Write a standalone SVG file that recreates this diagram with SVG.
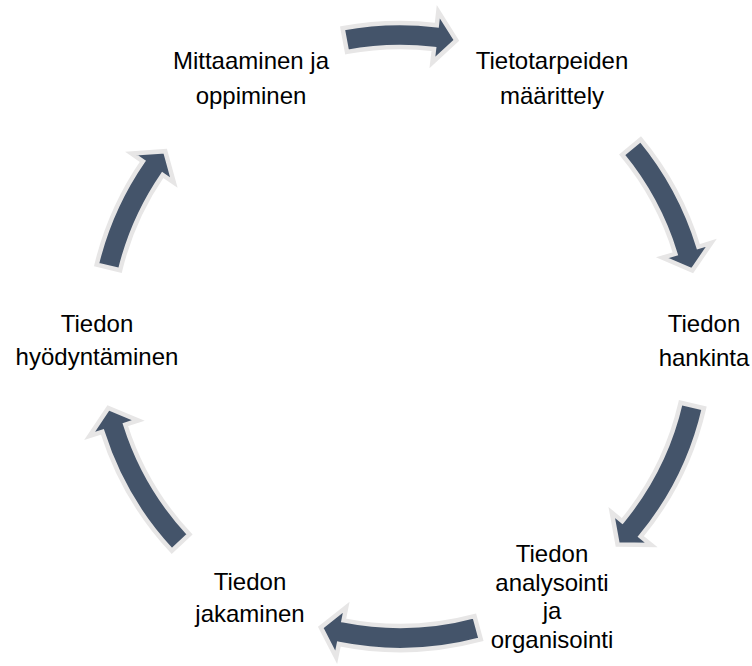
<svg xmlns="http://www.w3.org/2000/svg" width="752" height="666" viewBox="0 0 752 666">
<style>
.arrow{fill:#44546A;stroke:#E7E6E6;stroke-width:4.5;stroke-linejoin:miter}
.label{font-family:"Liberation Sans",Arial,sans-serif;font-size:24px;fill:#000;text-anchor:middle}
</style>
<rect width="752" height="666" fill="#FFFFFF"/>
<g id="connectors">
<path class="arrow" d="M342.6,28.3 A315,315 0 0 1 436.8,25.2 L438.3,11.7 L456.3,40.3 L432.4,62.4 L434.0,49.0 A291,291 0 0 0 347.0,51.9 Z"/>
<path class="arrow" d="M640.7,139.5 A312,312 0 0 1 698.4,246.8 L711.3,242.8 L692.3,270.5 L662.5,257.7 L675.4,253.8 A288,288 0 0 0 622.2,154.8 Z"/>
<path class="arrow" d="M704.0,408.2 A312,312 0 0 1 640.7,536.5 L651.2,545.0 L617.6,544.5 L611.8,512.6 L622.2,521.2 A288,288 0 0 0 680.6,402.8 Z"/>
<path class="arrow" d="M480.8,639.4 A312,312 0 0 1 338.9,644.0 L336.2,657.2 L320.8,627.4 L346.2,607.2 L343.6,620.4 A288,288 0 0 0 474.5,616.2 Z"/>
<path class="arrow" d="M171.8,550.8 A312,312 0 0 1 102.4,431.8 L89.6,435.9 L108.3,408.0 L138.2,420.5 L125.3,424.6 A288,288 0 0 0 189.4,534.4 Z"/>
<path class="arrow" d="M96.7,264.6 A312,312 0 0 1 142.9,161.3 L131.7,153.6 L165.2,151.2 L173.8,182.5 L162.6,174.9 A288,288 0 0 0 120.1,270.3 Z"/>
</g>
<g id="node-mittaaminen">
<text class="label" x="251" y="69">Mittaaminen ja</text>
<text class="label" x="251" y="104">oppiminen</text>
</g>
<g id="node-tietotarpeiden">
<text class="label" x="552" y="69">Tietotarpeiden</text>
<text class="label" x="552" y="104">määrittely</text>
</g>
<g id="node-hankinta">
<text class="label" x="704" y="332">Tiedon</text>
<text class="label" x="704" y="366">hankinta</text>
</g>
<g id="node-analysointi">
<text class="label" x="552" y="562">Tiedon</text>
<text class="label" x="552" y="591">analysointi</text>
<text class="label" x="552" y="619">ja</text>
<text class="label" x="552" y="648">organisointi</text>
</g>
<g id="node-jakaminen">
<text class="label" x="250" y="590">Tiedon</text>
<text class="label" x="250" y="622">jakaminen</text>
</g>
<g id="node-hyodyntaminen">
<text class="label" x="97" y="332">Tiedon</text>
<text class="label" x="97" y="365">hyödyntäminen</text>
</g>
</svg>
